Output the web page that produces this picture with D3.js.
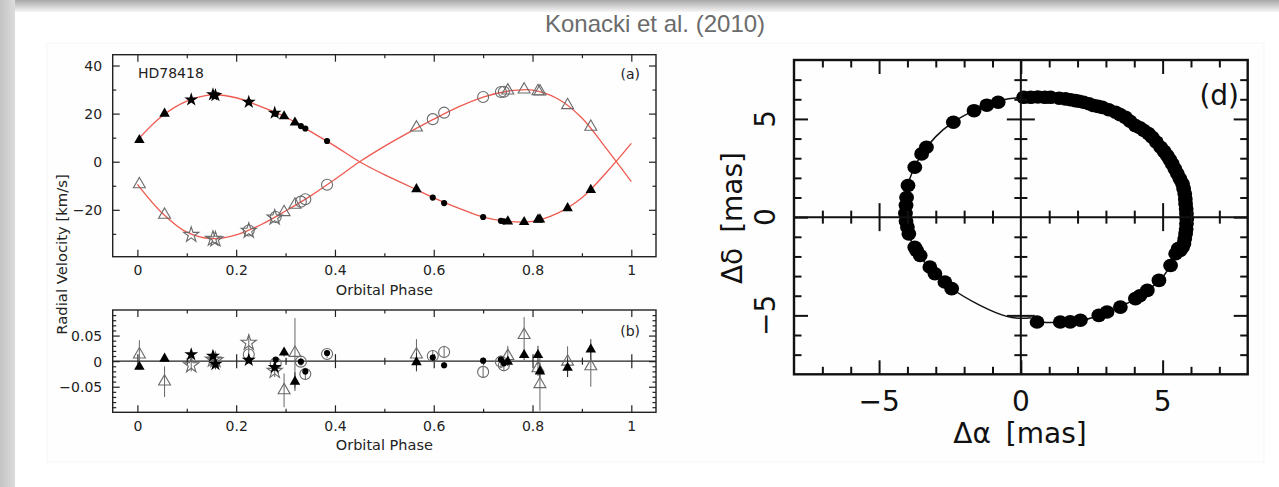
<!DOCTYPE html>
<html>
<head>
<meta charset="utf-8">
<script src="https://cdnjs.cloudflare.com/ajax/libs/d3/7.8.5/d3.min.js"></script>
<style>
  html, body { margin: 0; padding: 0; background: #fff; }
  svg { display: block; }
</style>
</head>
<body>
<script>
// ---------- Radial-velocity data, HD78418 (orbital phase, km/s) ----------
// Observations grouped by instrument set; P = primary (filled), S = secondary (open)
const triPhase     = [0.004, 0.055, 0.297, 0.319, 0.565, 0.750, 0.783, 0.811, 0.815, 0.871, 0.918];
const triRvP       = [9.0, 20.0, 18.9, 16.3, -11.4, -24.8, -25.1, -24.1, -24.0, -19.3, -11.7];
const triRvS       = [-9.4, -22.1, -21.0, -17.9, 14.2, 29.6, 30.0, 29.3, 29.2, 23.5, 14.5];
const triResP      = [-0.011, 0.005, 0.017, -0.040, -0.002, -0.001, 0.012, 0.012, -0.020, -0.013, 0.023];
const triErrP      = [0.006, 0.006, 0.008, 0.018, 0.018, 0.008, 0.010, 0.018, 0.015, 0.018, 0.020];
const triResS      = [0.013, -0.040, -0.057, 0.016, 0.013, 0.010, 0.051, -0.014, -0.045, -0.001, -0.010];
const triErrS      = [0.028, 0.030, 0.033, 0.068, 0.030, 0.020, 0.035, 0.015, 0.052, 0.030, 0.040];

const starPhase    = [0.109, 0.153, 0.158, 0.2255, 0.278];
const starRvP      = [25.8, 27.9, 27.6, 24.8, 20.3];
const starRvS      = [-30.4, -32.0, -32.3, -28.7, -23.2];
const starResP     = [0.013, 0.010, -0.006, 0.002, -0.012];
const starErrP     = [0.010, 0.010, 0.010, 0.006, 0.008];
const starResS     = [-0.008, 0.003, 0.002, 0.036, -0.019];
const starErrS     = [0.012, 0.012, 0.015, 0.016, 0.012];

const circPhase    = [0.2255, 0.280, 0.331, 0.340, 0.384, 0.598, 0.621, 0.700, 0.736, 0.742];
const circRvP      = [24.8, 19.9, 14.8, 13.8, 8.6, -14.9, -17.2, -23.0, -24.6, -24.8];
const circRvS      = [-28.6, -23.0, -16.6, -15.6, -9.6, 17.7, 20.4, 26.9, 29.0, 29.1];
const circResP     = [0.002, 0.003, -0.001, -0.020, 0.016, 0.007, -0.008, 0.001, 0.003, -0.004];
const circErrP     = [0.004, 0.004, 0.004, 0.006, 0.005, 0.006, 0.006, 0.005, 0.005, 0.005];
const circResS     = [0.013, -0.004, -0.001, -0.025, 0.014, 0.010, 0.018, -0.021, -0.001, -0.008];
const circErrS     = [0.008, 0.008, 0.008, 0.012, 0.008, 0.012, 0.012, 0.012, 0.012, 0.012];

// Keplerian model curves sampled in phase
const modelPhase   = [0, 0.05, 0.1, 0.15, 0.2, 0.25, 0.3, 0.35, 0.4, 0.45, 0.5, 0.55, 0.6, 0.65, 0.7, 0.75, 0.8, 0.85, 0.9, 0.95, 1.0];
const modelRvP     = [9.0, 19.0, 25.2, 27.8, 26.6, 22.9, 18.6, 12.6, 6.5, 0.0, -5.4, -10.2, -15.0, -19.3, -23.0, -24.8, -24.8, -21.5, -15.0, -4.4, 7.6];
const modelRvS     = [-9.4, -21.3, -29.3, -32.0, -30.4, -26.2, -20.5, -14.3, -7.3, 0.0, 6.4, 12.2, 17.7, 22.8, 26.9, 29.3, 29.8, 26.3, 18.2, 5.3, -8.3];

// ---------- Relative astrometric orbit (mas) ----------
const astroDx = [0.10, 0.35, 0.60, 0.85, 1.05, 1.35, 1.57, 1.75, 1.92, 2.05, 2.21, 2.40, 2.57, 2.72, 2.87, 3.10, 3.34, 3.50,
                 3.69, 3.85, 4.04, 4.20, 4.34, 4.50, 4.63, 4.78, 4.93, 5.05, 5.16, 5.25, 5.34, 5.43, 5.52, 5.61, 5.70,
                 5.74, 5.78, 5.80, 5.81, 5.83, 5.84, 5.85, 5.84, 5.83, 5.81, 5.78, 5.75, 5.70, 5.62, 5.55, 5.46, 5.28,
                 4.87, 4.46, 4.20, 4.04, 3.51, 3.04, 2.75, 2.10, 1.74, 1.39, 0.57,
                 -0.80, -1.20, -1.65, -2.38, -3.33, -3.50, -3.74, -3.98, -4.03, -4.05, -4.07, -4.05, -4.00, -3.95,
                 -3.74, -3.68, -3.55, -3.21, -3.03, -2.68, -2.44];
const astroDy = [6.10, 6.10, 6.12, 6.10, 6.10, 6.05, 6.02, 5.98, 5.93, 5.90, 5.85, 5.77, 5.68, 5.64, 5.59, 5.47, 5.34, 5.22,
                 5.08, 4.88, 4.66, 4.55, 4.41, 4.25, 4.07, 3.82, 3.56, 3.35, 3.14, 2.93, 2.71, 2.46, 2.21, 1.95, 1.70,
                 1.45, 1.19, 0.93, 0.68, 0.42, 0.17, -0.08, -0.34, -0.60, -0.84, -1.10, -1.35, -1.53, -1.70, -1.60, -1.86, -2.46,
                 -3.22, -3.73, -4.00, -4.15, -4.58, -4.83, -5.00, -5.25, -5.33, -5.34, -5.34,
                 5.85, 5.70, 5.42, 4.83, 3.56, 3.22, 2.54, 1.61, 1.00, 0.60, 0.20, -0.20, -0.50, -0.85,
                 -1.53, -1.69, -1.95, -2.54, -2.88, -3.30, -3.64];
// fitted orbit
const orbitDx = [0.55, 1.4, 2.2, 3.0, 3.8, 4.5, 5.0, 5.45, 5.72, 5.84, 5.82, 5.65, 5.3, 4.75, 4.0, 3.2, 2.3, 1.3, 0.3,
                 -0.7, -1.65, -2.4, -3.0, -3.45, -3.8, -4.0, -4.06, -4.0, -3.8, -3.45, -3.0, -2.45, -1.44, -0.5, 0.0, 0.35];
const orbitDy = [-5.34, -5.36, -5.24, -4.86, -4.35, -3.7, -3.05, -2.05, -1.2, -0.2, 0.8, 1.85, 2.8, 3.8, 4.7, 5.42, 5.82, 6.07, 6.12,
                 5.95, 5.42, 4.82, 4.1, 3.3, 2.4, 1.5, 0.4, -0.6, -1.45, -2.2, -2.9, -3.62, -4.49, -5.05, -5.15, -5.12];

// ---------- tick values ----------
const phaseMajor = [0, 0.2, 0.4, 0.6, 0.8, 1];
const phaseMinor = [0.1, 0.3, 0.5, 0.7, 0.9];
const rvMajor    = [-20, 0, 20, 40];
const rvMinor    = [-30, -10, 10, 30];
const resMajor   = [-0.05, 0, 0.05];
const resMinor   = [-0.09, -0.08, -0.07, -0.06, -0.04, -0.03, -0.02, -0.01, 0.01, 0.02, 0.03, 0.04, 0.06, 0.07, 0.08, 0.09];
const masMajor   = [-5, 0, 5];
const masMinor   = [-7, -6, -4, -3, -2, -1, 1, 2, 3, 4, 6, 7];

const W = 1279, H = 487;
const svg = d3.select("body").append("svg").attr("width", W).attr("height", H);

// ---------- slide background ----------
const defs = svg.append("defs");
const gTop = defs.append("linearGradient").attr("id", "topShade").attr("x1", 0).attr("y1", 0).attr("x2", 0).attr("y2", 1);
gTop.append("stop").attr("offset", "0%").attr("stop-color", "#a8a8a8");
gTop.append("stop").attr("offset", "100%").attr("stop-color", "#f6f6f6");
const gLeft = defs.append("linearGradient").attr("id", "leftShade").attr("x1", 0).attr("y1", 0).attr("x2", 1).attr("y2", 0);
gLeft.append("stop").attr("offset", "0%").attr("stop-color", "#c4c4c4");
gLeft.append("stop").attr("offset", "100%").attr("stop-color", "#dcdcdc");

svg.append("rect").attr("width", W).attr("height", H).attr("fill", "#ffffff");
svg.append("rect").attr("x", 0).attr("y", 0).attr("width", W).attr("height", 12).attr("fill", "url(#topShade)");
svg.append("rect").attr("x", 0).attr("y", 0).attr("width", 15).attr("height", H).attr("fill", "url(#leftShade)");
svg.append("rect").attr("x", 47).attr("y", 43).attr("width", 1217).attr("height", 419)
   .attr("fill", "#fefefe").attr("stroke", "#f5f5f5").attr("stroke-width", 1);

svg.append("text").attr("x", 655).attr("y", 32).attr("text-anchor", "middle")
   .attr("font-family", "Liberation Sans, Arial, sans-serif").attr("font-size", 24)
   .attr("fill", "#6b6b6b").text("Konacki et al. (2010)");

// ---------- helpers ----------
const FONT_LEFT = "DejaVu Sans, sans-serif";
const ink = "#222";

function styleAxis(g, font, size) {
  g.select(".domain").remove();
  g.selectAll("line").attr("stroke", ink).attr("stroke-width", 1.2);
  g.attr("font-family", font).attr("font-size", size);
  g.selectAll("text").attr("fill", ink);
}

function symbolPath(type, size) { return d3.symbol().type(type).size(size)(); }

// ---------- panel (a): radial velocities ----------
const xA = d3.scaleLinear().domain([-0.05, 1.05]).range([112.7, 656]);
const yA = d3.scaleLinear().domain([-39.5, 44.5]).range([256.7, 54.7]);
const yB = d3.scaleLinear().domain([-0.1, 0.1]).range([412.3, 310]);

function phaseFrame(top, bottom, labelY) {
  const gb = svg.append("g").attr("transform", `translate(0,${bottom})`)
    .call(d3.axisBottom(xA).tickValues(phaseMajor).tickSize(-7).tickPadding(8.4)
      .tickFormat(d => d3.format("")(d)));
  styleAxis(gb, FONT_LEFT, 14);
  const gbm = svg.append("g").attr("transform", `translate(0,${bottom})`)
    .call(d3.axisBottom(xA).tickValues(phaseMinor).tickSize(-3.5).tickFormat(""));
  styleAxis(gbm, FONT_LEFT, 14);
  const gt = svg.append("g").attr("transform", `translate(0,${top})`)
    .call(d3.axisTop(xA).tickValues(phaseMajor).tickSize(-7).tickFormat(""));
  styleAxis(gt, FONT_LEFT, 14);
  const gtm = svg.append("g").attr("transform", `translate(0,${top})`)
    .call(d3.axisTop(xA).tickValues(phaseMinor).tickSize(-3.5).tickFormat(""));
  styleAxis(gtm, FONT_LEFT, 14);
  svg.append("text").attr("x", (112.7 + 656) / 2).attr("y", labelY).attr("text-anchor", "middle")
    .attr("font-family", FONT_LEFT).attr("font-size", 14.5).attr("fill", ink).text("Orbital Phase");
}

function valueFrame(y, major, minor, fmt) {
  const gl = svg.append("g").attr("transform", `translate(112.7,0)`)
    .call(d3.axisLeft(y).tickValues(major).tickSize(-7).tickPadding(10.5).tickFormat(fmt));
  styleAxis(gl, FONT_LEFT, 14);
  gl.selectAll("text").attr("dy", "0.36em");
  const glm = svg.append("g").attr("transform", `translate(112.7,0)`)
    .call(d3.axisLeft(y).tickValues(minor).tickSize(-3.5).tickFormat(""));
  styleAxis(glm, FONT_LEFT, 14);
  const gr = svg.append("g").attr("transform", `translate(656,0)`)
    .call(d3.axisRight(y).tickValues(major).tickSize(-7).tickFormat(""));
  styleAxis(gr, FONT_LEFT, 14);
  const grm = svg.append("g").attr("transform", `translate(656,0)`)
    .call(d3.axisRight(y).tickValues(minor).tickSize(-3.5).tickFormat(""));
  styleAxis(grm, FONT_LEFT, 14);
}

// model curves
const lineP = d3.line().x((d, i) => xA(modelPhase[i])).y(d => yA(d)).curve(d3.curveCatmullRom.alpha(0.5));
svg.append("path").attr("d", lineP(modelRvP)).attr("fill", "none").attr("stroke", "#ee5a50").attr("stroke-width", 1.3);
svg.append("path").attr("d", lineP(modelRvS)).attr("fill", "none").attr("stroke", "#ee5a50").attr("stroke-width", 1.3);

// symbol sets
const openGray = "#6a6a6a";
const sets = [
  { phase: triPhase,  rvP: triRvP,  rvS: triRvS,  resP: triResP,  errP: triErrP,  resS: triResS,  errS: triErrS,
    typeP: d3.symbolTriangle, sizeP: 48, typeS: d3.symbolTriangle, sizeS: 62 },
  { phase: starPhase, rvP: starRvP, rvS: starRvS, resP: starResP, errP: starErrP, resS: starResS, errS: starErrS,
    typeP: d3.symbolStar, sizeP: 60, typeS: d3.symbolStar, sizeS: 72 },
  { phase: circPhase, rvP: circRvP, rvS: circRvS, resP: circResP, errP: circErrP, resS: circResS, errS: circErrS,
    typeP: d3.symbolCircle, sizeP: 30, typeS: d3.symbolCircle, sizeS: 95 }
];

// secondary (open) first, primary (filled) on top
const gA = svg.append("g");
sets.forEach(s => {
  gA.selectAll(null).data(s.phase).join("path")
    .attr("transform", (p, i) => `translate(${xA(p)},${yA(s.rvS[i])})`)
    .attr("d", symbolPath(s.typeS, s.sizeS))
    .attr("fill", "none").attr("stroke", openGray).attr("stroke-width", 1.1);
});
sets.forEach(s => {
  gA.selectAll(null).data(s.phase).join("path")
    .attr("transform", (p, i) => `translate(${xA(p)},${yA(s.rvP[i])})`)
    .attr("d", symbolPath(s.typeP, s.sizeP))
    .attr("fill", "#000");
});

svg.append("rect").attr("x", 112.7).attr("y", 54.7).attr("width", 656 - 112.7).attr("height", 256.7 - 54.7)
  .attr("fill", "none").attr("stroke", ink).attr("stroke-width", 1.4);
phaseFrame(54.7, 256.7, 294.5);
valueFrame(yA, rvMajor, rvMinor, d3.format(""));
svg.append("text").attr("x", 138).attr("y", 78.3).attr("font-family", FONT_LEFT).attr("font-size", 14)
  .attr("fill", ink).text("HD78418");
svg.append("text").attr("x", 640).attr("y", 79).attr("text-anchor", "end").attr("font-family", FONT_LEFT)
  .attr("font-size", 14).attr("fill", ink).text("(a)");

// ---------- panel (b): residuals ----------
svg.append("line").attr("x1", 112.7).attr("x2", 656).attr("y1", yB(0)).attr("y2", yB(0))
  .attr("stroke", ink).attr("stroke-width", 1.3);
[7, -7].forEach(len => {
  const g = svg.append("g").attr("transform", `translate(0,${yB(0)})`)
    .call(d3.axisBottom(xA).tickValues(phaseMajor).tickSize(len).tickFormat(""));
  styleAxis(g, FONT_LEFT, 14);
});
[3.5, -3.5].forEach(len => {
  const g = svg.append("g").attr("transform", `translate(0,${yB(0)})`)
    .call(d3.axisBottom(xA).tickValues(phaseMinor).tickSize(len).tickFormat(""));
  styleAxis(g, FONT_LEFT, 14);
});

const gB = svg.append("g");
sets.forEach(s => {
  // error bars
  gB.selectAll(null).data(s.phase).join("line")
    .attr("x1", p => xA(p)).attr("x2", p => xA(p))
    .attr("y1", (p, i) => yB(Math.max(-0.1, s.resS[i] - s.errS[i])))
    .attr("y2", (p, i) => yB(Math.min(0.1, s.resS[i] + s.errS[i])))
    .attr("stroke", "#555").attr("stroke-width", 0.9);
  gB.selectAll(null).data(s.phase).join("line")
    .attr("x1", p => xA(p)).attr("x2", p => xA(p))
    .attr("y1", (p, i) => yB(s.resP[i] - s.errP[i]))
    .attr("y2", (p, i) => yB(s.resP[i] + s.errP[i]))
    .attr("stroke", "#222").attr("stroke-width", 0.9);
});
sets.forEach(s => {
  gB.selectAll(null).data(s.phase).join("path")
    .attr("transform", (p, i) => `translate(${xA(p)},${yB(s.resS[i])})`)
    .attr("d", symbolPath(s.typeS, s.sizeS))
    .attr("fill", "none").attr("stroke", openGray).attr("stroke-width", 1.1);
});
sets.forEach(s => {
  gB.selectAll(null).data(s.phase).join("path")
    .attr("transform", (p, i) => `translate(${xA(p)},${yB(s.resP[i])})`)
    .attr("d", symbolPath(s.typeP, s.sizeP))
    .attr("fill", "#000");
});

svg.append("rect").attr("x", 112.7).attr("y", 310).attr("width", 656 - 112.7).attr("height", 412.3 - 310)
  .attr("fill", "none").attr("stroke", ink).attr("stroke-width", 1.4);
phaseFrame(310, 412.3, 450);
valueFrame(yB, resMajor, resMinor, d3.format(""));
svg.append("text").attr("x", 640).attr("y", 335.5).attr("text-anchor", "end").attr("font-family", FONT_LEFT)
  .attr("font-size", 14).attr("fill", ink).text("(b)");

svg.append("text").attr("transform", "translate(66.7,254.5) rotate(-90)").attr("text-anchor", "middle")
  .attr("font-family", FONT_LEFT).attr("font-size", 14.8).attr("fill", ink).text("Radial Velocity [km/s]");

// ---------- panel (d): relative orbit ----------
const xD = d3.scaleLinear().domain([-8, 8]).range([794, 1247.7]);
const yD = d3.scaleLinear().domain([-8, 8]).range([374.3, 60]);
const FONT_D = "DejaVu Sans, sans-serif";
const black = "#111";

function styleD(g) {
  g.select(".domain").remove();
  g.selectAll("line").attr("stroke", black).attr("stroke-width", 2);
}

const gD = svg.append("g");
// fitted orbit and measured positions
const orbitLine = d3.line().x((d, i) => xD(orbitDx[i])).y(d => yD(d)).curve(d3.curveCatmullRom.alpha(0.5));
gD.append("path").attr("d", orbitLine(orbitDy)).attr("fill", "none").attr("stroke", black).attr("stroke-width", 1.5);
gD.selectAll(null).data(astroDx).join("ellipse")
  .attr("cx", d => xD(d)).attr("cy", (d, i) => yD(astroDy[i]))
  .attr("rx", 7.4).attr("ry", 6.8).attr("fill", "#000");

// zero lines with crossing ticks
svg.append("line").attr("x1", 794).attr("x2", 1247.7).attr("y1", yD(0)).attr("y2", yD(0)).attr("stroke", black).attr("stroke-width", 2);
svg.append("line").attr("y1", 60).attr("y2", 374.3).attr("x1", xD(0)).attr("x2", xD(0)).attr("stroke", black).attr("stroke-width", 2);
[[masMinor, 6.5], [masMajor.filter(v => v !== 0), 14]].forEach(([vals, len]) => {
  [len, -len].forEach(l => {
    styleD(svg.append("g").attr("transform", `translate(0,${yD(0)})`)
      .call(d3.axisBottom(xD).tickValues(vals).tickSize(l).tickFormat("")));
    styleD(svg.append("g").attr("transform", `translate(${xD(0)},0)`)
      .call(d3.axisLeft(yD).tickValues(vals).tickSize(l).tickFormat("")));
  });
});

// frame ticks
[[masMinor, 7.5], [masMajor, 14]].forEach(([vals, len]) => {
  styleD(svg.append("g").attr("transform", "translate(0,374.3)")
    .call(d3.axisBottom(xD).tickValues(vals).tickSize(-len).tickFormat("")));
  styleD(svg.append("g").attr("transform", "translate(0,60)")
    .call(d3.axisTop(xD).tickValues(vals).tickSize(-len).tickFormat("")));
  styleD(svg.append("g").attr("transform", "translate(794,0)")
    .call(d3.axisLeft(yD).tickValues(vals).tickSize(-len).tickFormat("")));
  styleD(svg.append("g").attr("transform", "translate(1247.7,0)")
    .call(d3.axisRight(yD).tickValues(vals).tickSize(-len).tickFormat("")));
});
svg.append("rect").attr("x", 794).attr("y", 60).attr("width", 1247.7 - 794).attr("height", 374.3 - 60)
  .attr("fill", "none").attr("stroke", black).attr("stroke-width", 2.4);

// tick labels
const fmtD = d3.format("");
svg.append("g").selectAll("text").data(masMajor).join("text")
  .attr("x", d => xD(d)).attr("y", 410.7).attr("text-anchor", "middle")
  .attr("font-family", FONT_D).attr("font-size", 28).attr("fill", black).text(fmtD);
svg.append("g").selectAll("text").data(masMajor).join("text")
  .attr("transform", d => `translate(775,${yD(d)}) rotate(-90)`).attr("text-anchor", "middle")
  .attr("font-family", FONT_D).attr("font-size", 28).attr("fill", black).text(fmtD);

const xlab = svg.append("text").attr("x", 1020).attr("y", 443).attr("text-anchor", "middle")
  .attr("font-family", FONT_D).attr("font-size", 28).attr("fill", black);
xlab.append("tspan").text("Δα");
xlab.append("tspan").attr("dx", 6).text(" [mas]");
const ylab = svg.append("text").attr("transform", "translate(742,218) rotate(-90)").attr("text-anchor", "middle")
  .attr("font-family", FONT_D).attr("font-size", 28).attr("fill", black);
ylab.append("tspan").text("Δδ");
ylab.append("tspan").attr("dx", 6).text(" [mas]");

svg.append("text").attr("x", 1239).attr("y", 105).attr("text-anchor", "end")
  .attr("font-family", FONT_D).attr("font-size", 28).attr("fill", black).text("(d)");
</script>
</body>
</html>
